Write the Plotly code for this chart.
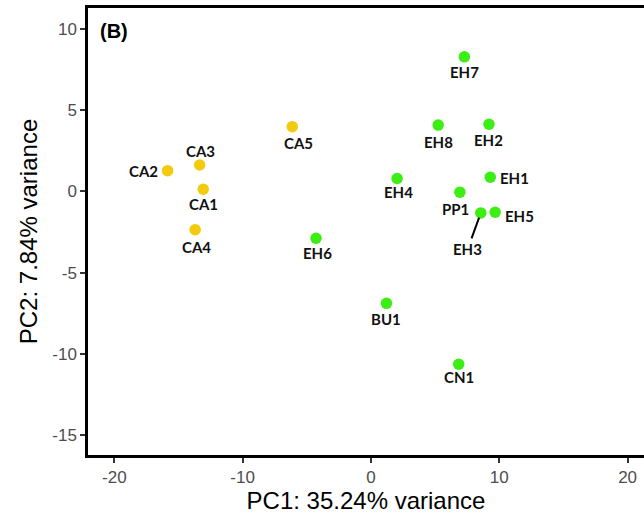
import plotly.graph_objects as go

samples = ["CA1", "CA2", "CA3", "CA4", "CA5",
           "EH1", "EH2", "EH3", "EH4", "EH5", "EH6", "EH7", "EH8",
           "PP1", "BU1", "CN1"]
pc1 = [-13.07, -15.85, -13.35, -13.7, -6.13,
       9.3, 9.2, 8.56, 2.04, 9.68, -4.28, 7.28, 5.24,
       6.93, 1.21, 6.84]
pc2 = [0.14, 1.28, 1.63, -2.35, 3.99,
       0.88, 4.14, -1.32, 0.80, -1.28, -2.88, 8.29, 4.09,
       -0.04, -6.89, -10.64]
group = ["CA", "CA", "CA", "CA", "CA",
         "EH", "EH", "EH", "EH", "EH", "EH", "EH", "EH",
         "EH", "EH", "EH"]

x_ticks = [-20, -10, 0, 10, 20]
y_ticks = [-15, -10, -5, 0, 5, 10]

colors = {"CA": "#F2CC0C", "EH": "#3CEE14"}

# label offsets in pixels (xshift, yshift)
label_offsets = {
    "CA1": (0, -15), "CA2": (-24, 0), "CA3": (1, 14), "CA4": (1, -17),
    "CA5": (6, -16), "EH1": (24, -1), "EH2": (0, -16), "EH4": (1, -14),
    "EH5": (24, -4), "EH6": (1, -15), "EH7": (0, -15), "EH8": (0, -17),
    "PP1": (-4, -17), "BU1": (0, -16), "CN1": (0, -13),
}

fig = go.Figure()
for g in ["CA", "EH"]:
    xs = [x for x, gg in zip(pc1, group) if gg == g]
    ys = [y for y, gg in zip(pc2, group) if gg == g]
    fig.add_trace(go.Scatter(x=xs, y=ys, mode="markers",
                             marker=dict(color=colors[g], size=11.5, line=dict(width=0)),
                             showlegend=False))

label_font = dict(family="Lato, Open Sans, sans-serif", size=15, color="#111111", weight="bold")
for s, x, y in zip(samples, pc1, pc2):
    if s == "EH3":
        fig.add_annotation(x=x, y=y, text="<b>EH3</b>", showarrow=True, arrowhead=0,
                           arrowwidth=2, arrowcolor="black", ax=-13, ay=36,
                           standoff=5, font=label_font)
        continue
    dx, dy = label_offsets[s]
    fig.add_annotation(x=x, y=y, text=f"<b>{s}</b>", showarrow=False,
                       xshift=dx, yshift=dy, font=label_font)

fig.add_annotation(x=0.018, y=0.978, xref="paper", yref="paper", text="<b>(B)</b>",
                   showarrow=False, xanchor="left", yanchor="top",
                   font=dict(family="Liberation Sans, Arial", size=20, color="black"))

axis_font = "Liberation Sans, Arial"
fig.update_layout(
    width=644, height=522,
    margin=dict(l=88, r=0, t=8, b=67),
    plot_bgcolor="white", paper_bgcolor="white",
    xaxis=dict(range=[-22.05, 21.28], tickvals=x_ticks, ticktext=[str(v) for v in x_ticks],
               showgrid=False, zeroline=False, showline=True, linecolor="black", linewidth=2.5,
               mirror=True, ticks="outside", ticklen=5, tickwidth=1.5, tickcolor="#333333",
               tickfont=dict(family=axis_font, size=17, color="#4D4D4D"),
               title=dict(text="PC1: 35.24% variance", standoff=6,
                          font=dict(family=axis_font, size=24, color="black"))),
    yaxis=dict(range=[-16.23, 11.3], tickvals=y_ticks, ticktext=[str(v) for v in y_ticks],
               showgrid=False, zeroline=False, showline=True, linecolor="black", linewidth=2.5,
               mirror=False, ticks="outside", ticklen=5, tickwidth=1.5, tickcolor="#333333",
               tickfont=dict(family=axis_font, size=17, color="#4D4D4D"),
               title=dict(text="PC2: 7.84% variance", standoff=8,
                          font=dict(family=axis_font, size=24, color="black"))),
)

fig.write_html("out.html")
